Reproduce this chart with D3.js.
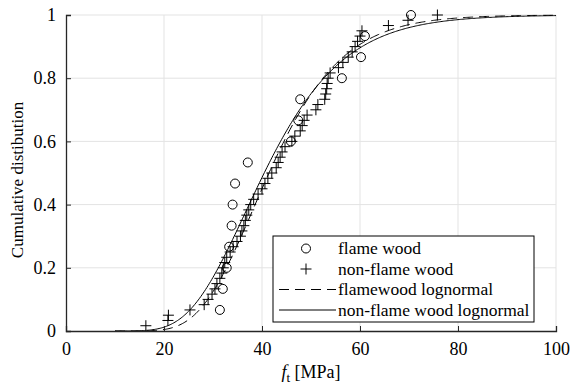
<!DOCTYPE html>
<html>
<head>
<meta charset="utf-8">
<script src="https://cdn.jsdelivr.net/npm/d3@7"></script>
<style>
  body { margin: 0; background: #fff; }
  text { font-family: "Liberation Serif", "Times New Roman", serif; fill: #000; }
</style>
</head>
<body>
<svg id="chart" width="570" height="387"></svg>
<script>
// measured strengths f_t [MPa], sorted
const flameWood = [31.4, 32.0, 32.8, 33.3, 33.8, 34.0, 34.5, 37.1, 45.9, 47.4, 47.8, 56.3, 60.2, 61.0, 70.4];
const nonFlameWood = [
  16.3, 20.8, 20.9, 25.3, 28.2, 29.0, 29.8, 30.4, 30.8, 31.4,
  31.8, 32.1, 32.4, 32.8, 33.5, 34.1, 34.9, 35.6, 35.9, 36.3,
  36.6, 36.9, 37.3, 37.7, 38.3, 39.2, 40.0, 40.6, 41.2, 42.0,
  42.9, 43.3, 43.7, 44.1, 44.7, 46.1, 46.7, 47.8, 48.2, 48.6,
  49.2, 51.0, 51.4, 52.8, 53.0, 53.2, 53.3, 53.5, 53.9, 55.6,
  56.5, 57.6, 58.4, 59.0, 59.5, 60.0, 60.4, 65.8, 69.8, 75.8
];
// lognormal fit parameters [mu, sigma] of ln(f_t)
const flameFit = [3.724, 0.280];
const nonFlameFit = [3.70, 0.313];
const curveRange = [10, 100];

const xTicks = [0, 20, 40, 60, 80, 100];
const yTicks = [0, 0.2, 0.4, 0.6, 0.8, 1];
const legendLabels = ['flame wood', 'non-flame wood', 'flamewood lognormal', 'non-flame wood lognormal'];

const W = 570, H = 387;
const margin = {top: 15, right: 14, bottom: 56, left: 66};
const iw = W - margin.left - margin.right;
const ih = H - margin.top - margin.bottom;

const svg = d3.select('#chart');
const g = svg.append('g').attr('transform', `translate(${margin.left},${margin.top})`);

const x = d3.scaleLinear().domain([0, 100]).range([0, iw]);
const y = d3.scaleLinear().domain([0, 1]).range([ih, 0]);

// normal cdf (Abramowitz & Stegun erf)
function erf(v) {
  const s = v < 0 ? -1 : 1;
  v = Math.abs(v);
  const t = 1 / (1 + 0.3275911 * v);
  const p = t * (0.254829592 + t * (-0.284496736 + t * (1.421413741 + t * (-1.453152027 + t * 1.061405429))));
  return s * (1 - p * Math.exp(-v * v));
}
const logncdf = (v, p) => 0.5 * (1 + erf((Math.log(v) - p[0]) / (p[1] * Math.SQRT2)));

// grid
g.append('g').selectAll('line').data(xTicks.filter(d => d > 0)).enter().append('line')
  .attr('x1', d => x(d)).attr('x2', d => x(d)).attr('y1', 0).attr('y2', ih)
  .style('stroke', '#e3e3e3').style('stroke-width', 1);
g.append('g').selectAll('line').data(yTicks.filter(d => d > 0)).enter().append('line')
  .attr('x1', 0).attr('x2', iw).attr('y1', d => y(d)).attr('y2', d => y(d))
  .style('stroke', '#e3e3e3').style('stroke-width', 1);

// fitted curves
const xs = d3.range(curveRange[0], curveRange[1] + 0.001, 0.25);
const line = d3.line().x(d => x(d[0])).y(d => y(d[1]));
g.append('path').datum(xs.map(v => [v, logncdf(v, nonFlameFit)]))
  .attr('d', line).style('fill', 'none').style('stroke', '#000').style('stroke-width', 1);
g.append('path').datum(xs.map(v => [v, logncdf(v, flameFit)]))
  .attr('d', line).style('fill', 'none').style('stroke', '#000').style('stroke-width', 1)
  .style('stroke-dasharray', '10,6');

// empirical cdf markers
const plus = s => `M${-s},0H${s}M0,${-s}V${s}`;

g.append('g').selectAll('path').data(nonFlameWood).enter().append('path')
  .attr('transform', (d, i) => `translate(${x(d)},${y((i + 1) / nonFlameWood.length)})`)
  .attr('d', plus(5.5))
  .style('fill', 'none').style('stroke', '#000').style('stroke-width', 1);

g.append('g').selectAll('circle').data(flameWood).enter().append('circle')
  .attr('cx', d => x(d)).attr('cy', (d, i) => y((i + 1) / flameWood.length))
  .attr('r', 4.5)
  .style('fill', 'none').style('stroke', '#000').style('stroke-width', 1);

// axes
const xAxis = g.append('g').attr('transform', `translate(0,${ih})`)
  .call(d3.axisBottom(x).tickValues(xTicks).tickSize(-5).tickPadding(11).tickFormat(d3.format('d')));
const yAxis = g.append('g')
  .call(d3.axisLeft(y).tickValues(yTicks).tickSize(-5).tickPadding(10).tickFormat(d => d === 0 || d === 1 ? d : d.toFixed(1)));
[xAxis, yAxis].forEach(a => {
  a.select('.domain').style('stroke', '#262626').style('stroke-width', 1.3);
  a.selectAll('.tick line').style('stroke', '#262626').style('stroke-width', 1);
  a.selectAll('.tick text').style('font-size', '18px').style('font-family', '"Liberation Serif", serif').style('fill', '#000');
});

// axis labels
const xl = svg.append('text')
  .attr('x', margin.left + iw / 2).attr('y', 378)
  .attr('text-anchor', 'middle').style('font-size', '18px');
xl.append('tspan').style('font-style', 'italic').text('f');
xl.append('tspan').attr('dy', 4).style('font-size', '13px').text('t');
xl.append('tspan').attr('dy', -4).text(' [MPa]');

svg.append('text')
  .attr('transform', `translate(23,${margin.top + ih / 2 + 7}) rotate(-90)`)
  .attr('text-anchor', 'middle').style('font-size', '17px')
  .text('Cumulative distibution');

// legend
const lg = svg.append('g').attr('transform', 'translate(273,236)');
lg.append('rect').attr('width', 261).attr('height', 86)
  .style('fill', '#fff').style('stroke', '#000').style('stroke-width', 1);
const rows = lg.selectAll('g.row').data(legendLabels).enter().append('g')
  .attr('class', 'row').attr('transform', (d, i) => `translate(0,${12.5 + i * 20.5})`);
rows.append('text').attr('x', 65).attr('dy', '0.32em').style('font-size', '17.5px').text(d => d);
rows.filter((d, i) => i === 0).append('circle').attr('cx', 33).attr('r', 4.5)
  .style('fill', 'none').style('stroke', '#000');
rows.filter((d, i) => i === 1).append('path').attr('transform', 'translate(33,0)').attr('d', plus(5.5))
  .style('fill', 'none').style('stroke', '#000');
rows.filter((d, i) => i === 2).append('line').attr('x1', 6).attr('x2', 63)
  .style('stroke', '#000').style('stroke-dasharray', '10,6');
rows.filter((d, i) => i === 3).append('line').attr('x1', 6).attr('x2', 63)
  .style('stroke', '#000');
</script>
</body>
</html>
